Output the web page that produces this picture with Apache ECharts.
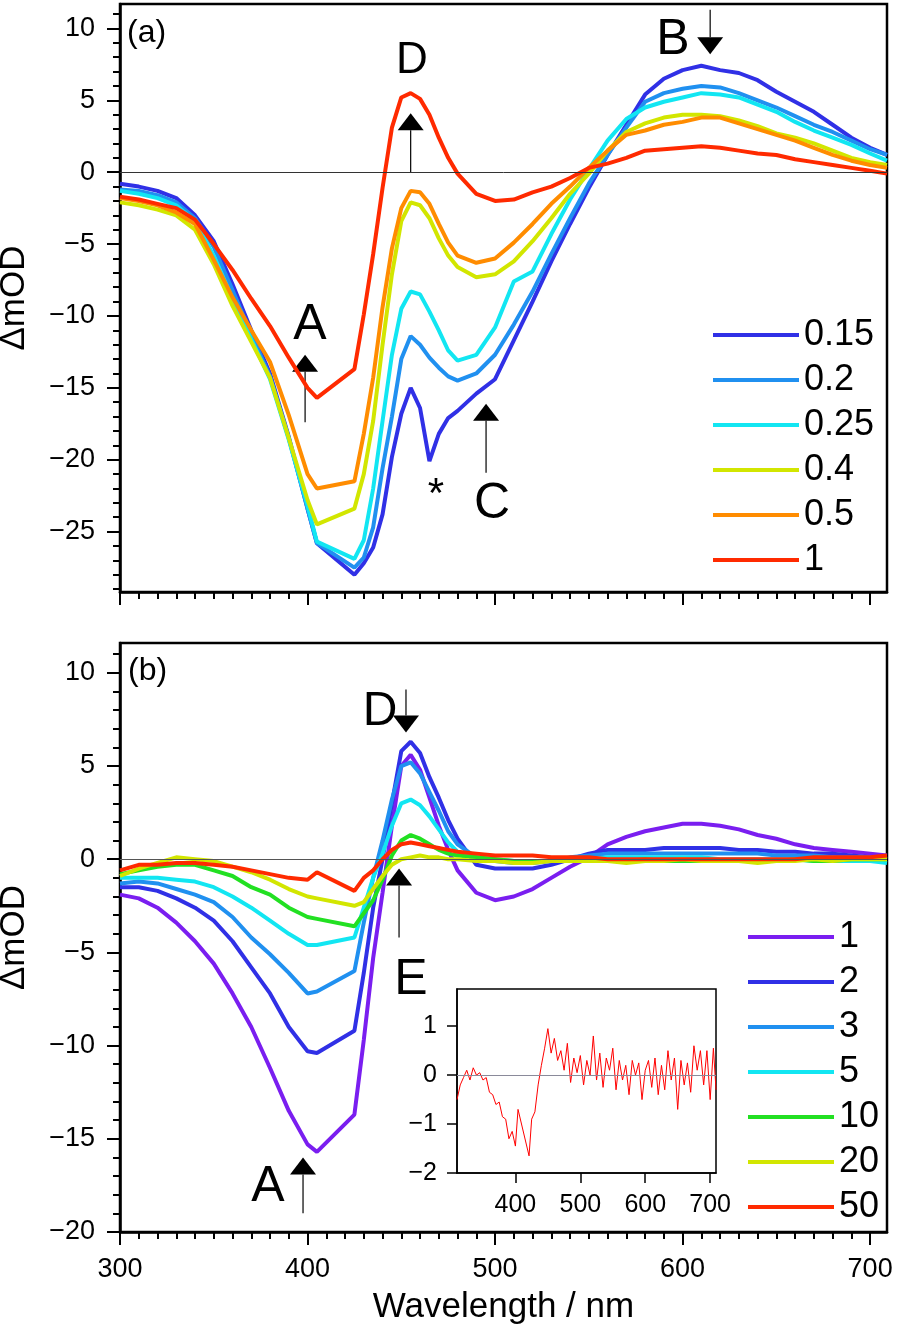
<!DOCTYPE html>
<html>
<head>
<meta charset="utf-8">
<script src="https://cdn.jsdelivr.net/npm/echarts@6/dist/echarts.min.js"></script>
<style>
html, body { margin: 0; padding: 0; background: #fff; }
#chart { width: 897px; height: 1335px; }
</style>
</head>
<body>
<div id="chart"></div>
<script>
// wavelength grid (nm); 405-425 is the cut-out pump region, joined by a straight line
const wl = [300,310,320,330,340,350,360,370,380,390,400,405,425,430,435,440,445,450,455,460,465,470,475,480,490,500,510,520,530,540,550,560,570,580,590,600,610,620,630,640,650,660,670,680,690,700,709]

// panel (a)
const namesA = ['0.15', '0.2', '0.25', '0.4', '0.5', '1']
const colorsA = ['#3030e6', '#2090f0', '#12e6f2', '#d2e600', '#ff8c00', '#ff2a00']
const a015 = [-0.8,-1.0,-1.3,-1.8,-3.0,-4.8,-7.8,-11.0,-14.0,-18.4,-23.4,-25.8,-28.0,-27.2,-26.1,-23.8,-19.8,-16.8,-15.0,-16.4,-20.1,-18.2,-17.1,-16.6,-15.4,-14.4,-11.7,-9.0,-6.2,-3.6,-1.1,1.2,3.3,5.4,6.5,7.1,7.4,7.1,6.9,6.4,5.6,4.9,4.2,3.3,2.4,1.7,1.2]
const a02 = [-1.2,-1.3,-1.6,-2.1,-3.2,-5.2,-8.2,-11.3,-14.2,-18.5,-23.4,-25.8,-27.5,-26.8,-24.7,-20.6,-17.0,-13.0,-11.4,-12.0,-12.9,-13.6,-14.2,-14.5,-14.0,-12.7,-10.6,-8.3,-5.7,-3.2,-0.8,1.2,3.1,4.9,5.5,5.8,6.0,5.9,5.5,5.0,4.5,3.9,3.3,2.8,2.2,1.6,1.2]
const a025 = [-1.3,-1.5,-1.8,-2.3,-3.4,-5.8,-8.8,-11.6,-14.4,-18.6,-23.2,-25.7,-26.9,-25.6,-22.0,-17.3,-12.7,-9.5,-8.3,-8.5,-9.7,-11.0,-12.4,-13.1,-12.7,-10.8,-7.6,-6.9,-4.3,-1.9,0.2,2.2,3.7,4.5,4.9,5.2,5.5,5.4,5.2,4.7,4.2,3.5,2.9,2.4,1.9,1.3,0.8]
const a04 = [-2.1,-2.3,-2.6,-3.0,-4.0,-6.4,-9.3,-11.8,-14.3,-18.5,-22.8,-24.5,-23.4,-21.0,-17.3,-12.0,-7.1,-3.4,-2.1,-2.3,-3.2,-4.6,-5.8,-6.6,-7.3,-7.1,-6.2,-4.8,-3.2,-1.5,-0.1,1.5,2.8,3.4,3.8,4.0,4.0,3.9,3.6,3.2,2.7,2.4,2.0,1.5,1.0,0.7,0.5]
const a05 = [-1.8,-2.0,-2.3,-2.8,-3.6,-6.1,-8.7,-11.0,-13.2,-16.9,-21.0,-22.0,-21.5,-18.2,-14.3,-9.4,-5.3,-2.5,-1.3,-1.4,-2.2,-3.6,-4.9,-5.8,-6.3,-6.0,-4.9,-3.6,-2.2,-1.0,0.3,1.5,2.6,2.9,3.3,3.5,3.8,3.8,3.4,3.0,2.6,2.2,1.7,1.2,0.8,0.5,0.3]
const a1 = [-1.7,-1.9,-2.2,-2.5,-3.3,-5.0,-6.8,-8.8,-10.7,-12.9,-15.0,-15.7,-13.7,-9.9,-5.7,-1.1,3.1,5.2,5.5,5.1,4.0,2.4,1.0,-0.1,-1.5,-2.0,-1.9,-1.4,-1.0,-0.4,0.3,0.6,1.0,1.5,1.6,1.7,1.8,1.7,1.5,1.3,1.2,0.9,0.7,0.5,0.3,0.1,-0.1]
const valuesA = [a015, a02, a025, a04, a05, a1]

// panel (b)
const namesB = ['1', '2', '3', '5', '10', '20', '50']
const colorsB = ['#7a1ef0', '#3030e6', '#2090f0', '#12e6f2', '#22e022', '#d2e600', '#ff2a00']
const b1 = [-1.9,-2.1,-2.6,-3.4,-4.4,-5.6,-7.2,-9.0,-11.2,-13.5,-15.3,-15.7,-13.7,-9.7,-5.3,-1.8,1.8,5.0,5.6,4.8,3.3,1.8,0.5,-0.6,-1.8,-2.2,-2.0,-1.6,-1.0,-0.4,0.1,0.8,1.2,1.5,1.7,1.9,1.9,1.8,1.6,1.3,1.1,0.8,0.6,0.5,0.4,0.3,0.2]
const b2 = [-1.5,-1.5,-1.7,-2.1,-2.6,-3.3,-4.4,-5.8,-7.2,-9.0,-10.3,-10.4,-9.2,-6.1,-2.6,0.0,3.0,5.8,6.3,5.7,4.4,3.3,2.1,1.1,-0.3,-0.5,-0.5,-0.5,-0.3,0.0,0.3,0.5,0.5,0.5,0.6,0.6,0.6,0.6,0.5,0.5,0.4,0.4,0.3,0.3,0.2,0.1,0.0]
const b3 = [-1.3,-1.2,-1.3,-1.6,-1.9,-2.3,-3.1,-4.2,-5.1,-6.1,-7.2,-7.1,-6.0,-3.4,-1.0,1.0,3.2,5.0,5.2,4.6,3.6,2.6,1.5,0.8,0.1,-0.1,-0.2,-0.2,-0.1,0.1,0.2,0.3,0.3,0.3,0.3,0.3,0.3,0.3,0.3,0.3,0.2,0.2,0.2,0.1,0.1,0.1,0.0]
const b5 = [-1.0,-1.0,-1.0,-1.1,-1.2,-1.5,-2.0,-2.6,-3.3,-4.0,-4.6,-4.6,-4.2,-2.6,-1.0,0.3,1.8,3.0,3.2,2.9,2.3,1.6,0.9,0.4,0.1,0.0,-0.1,-0.1,-0.1,0.0,0.0,0.1,0.1,0.1,0.1,0.1,0.1,0.0,0.0,0.0,0.0,0.0,-0.1,-0.1,-0.1,-0.1,-0.2]
const b10 = [-0.8,-0.6,-0.4,-0.3,-0.3,-0.6,-0.9,-1.5,-1.9,-2.6,-3.1,-3.2,-3.6,-2.9,-2.2,-1.1,0.2,1.0,1.3,1.1,0.8,0.5,0.3,0.2,0.1,0.0,-0.1,-0.1,-0.1,0.0,0.0,-0.1,-0.1,0.0,-0.1,-0.1,-0.1,-0.1,-0.1,-0.1,-0.1,0.0,-0.1,-0.1,0.0,0.0,0.0]
const b20 = [-0.9,-0.5,-0.2,0.1,0.0,-0.1,-0.4,-0.7,-1.1,-1.6,-2.0,-2.1,-2.5,-2.3,-1.6,-0.9,-0.3,0.0,0.1,0.2,0.1,0.1,0.0,0.0,-0.1,-0.1,-0.2,-0.2,-0.1,-0.1,-0.1,-0.1,-0.2,-0.1,-0.1,0.0,-0.1,-0.1,-0.1,-0.2,-0.1,-0.1,0.0,-0.1,0.0,0.0,0.0]
const b50 = [-0.6,-0.3,-0.3,-0.2,-0.2,-0.3,-0.4,-0.6,-0.8,-1.0,-1.1,-0.7,-1.7,-1.0,-0.6,0.0,0.5,0.8,0.9,0.8,0.7,0.6,0.5,0.4,0.3,0.2,0.2,0.2,0.1,0.1,0.1,0.0,0.0,0.0,0.0,0.0,0.0,0.0,0.0,0.0,0.0,0.0,0.1,0.1,0.1,0.1,0.2]
const valuesB = [b1, b2, b3, b5, b10, b20, b50]

// inset E
const insetWl = [310,315,320,325,330,335,340,345,350,355,360,365,370,375,380,385,390,395,400,404,421,425,430,435,440,445,450,455,460,465,470,475,480,485,490,495,500,505,510,515,520,525,530,535,540,545,550,555,560,565,570,575,580,585,590,595,600,605,610,615,620,625,630,635,640,645,650,655,660,665,670,675,680,685,690,695,700,705,709]
const insetV = [-0.5,-0.2,-0.05,0.1,-0.1,0.15,0.0,0.05,-0.1,-0.05,-0.35,-0.4,-0.6,-0.55,-0.85,-0.9,-1.3,-1.15,-1.45,-0.7,-1.65,-0.9,-0.75,-0.2,0.2,0.55,0.95,0.45,0.75,0.3,0.5,0.1,0.65,-0.15,0.35,0.05,0.4,-0.2,0.3,0.0,0.8,-0.1,0.45,-0.25,0.35,0.1,0.55,-0.3,0.3,-0.1,0.2,-0.4,0.3,0.0,0.25,-0.5,0.1,0.3,-0.25,0.35,-0.4,0.2,-0.3,0.5,-0.1,0.35,-0.7,0.3,-0.2,0.25,-0.35,0.6,0.1,0.5,-0.2,0.5,-0.5,0.55,-0.3]

// ticks
const xTicks = [300, 400, 500, 600, 700]
const yTicksA = [-25, -20, -15, -10, -5, 0, 5, 10]
const yTicksB = [-20, -15, -10, -5, 0, 5, 10]
const insetXTicks = [400, 500, 600, 700]
const insetYTicks = [-2, -1, 0, 1]

// annotation arrows in data units: panel, wavelength, tail value, tip value
const arrows = [
  [0, 455, 0, 4.1], [0, 398.7, -17.4, -12.7], [0, 614.7, 11.3, 8.2], [0, 495.2, -20.9, -16.1],
  [1, 452.5, 9.1, 6.8], [1, 448.8, -4.2, -0.5], [1, 397.6, -19.0, -16.0]
]

const FONT = '"Liberation Sans", Arial, sans-serif'
const minus = v => String(v).replace('-', '\u2212')

function range(a, b, s) {
  const r = []
  for (let v = a; v <= b + 1e-9; v += s) r.push(v)
  return r
}

function xAx(grid, ticks, len, label, line) {
  return {
    type: 'value', gridIndex: grid, min: 300, max: 709, position: 'bottom',
    axisLine: { show: line, onZero: false, lineStyle: { color: '#000', width: 2.5 } },
    axisTick: { show: true, customValues: ticks, length: len, lineStyle: { color: '#000', width: 2 } },
    axisLabel: { show: label, customValues: ticks, margin: 24, fontSize: 27, color: '#000', fontFamily: FONT },
    splitLine: { show: false }
  }
}

function yAx(grid, min, max, ticks, len, label, line) {
  return {
    type: 'value', gridIndex: grid, min: min, max: max, position: 'left',
    name: label ? 'ΔmOD' : '', nameLocation: 'middle', nameGap: 88, nameRotate: 90,
    nameTextStyle: { fontSize: 35, color: '#000', fontFamily: FONT },
    axisLine: { show: line, onZero: false, lineStyle: { color: '#000', width: 2.5 } },
    axisTick: { show: true, customValues: ticks, length: len, lineStyle: { color: '#000', width: 2 } },
    axisLabel: { show: label, customValues: ticks, margin: 25, fontSize: 27, color: '#000', fontFamily: FONT, formatter: minus },
    splitLine: { show: false }
  }
}

const zeroLine = (color, width) => ({
  silent: true, symbol: ['none', 'none'], label: { show: false },
  lineStyle: { color: color, width: width, type: 'solid' },
  data: [{ yAxis: 0 }]
})

const series = []
valuesA.forEach((vals, i) => {
  series.push({
    name: namesA[i], type: 'line', xAxisIndex: 0, yAxisIndex: 0,
    data: wl.map((w, j) => [w, vals[j]]),
    showSymbol: false, color: colorsA[i], lineStyle: { width: 4 },
    markLine: i === 0 ? zeroLine('#333', 1) : undefined
  })
})
valuesB.forEach((vals, i) => {
  series.push({
    name: 'b' + namesB[i], type: 'line', xAxisIndex: 2, yAxisIndex: 2,
    data: wl.map((w, j) => [w, vals[j]]),
    showSymbol: false, color: colorsB[i], lineStyle: { width: 4 },
    markLine: i === 0 ? zeroLine('#555', 1) : undefined
  })
})
series.push({
  name: 'E', type: 'line', xAxisIndex: 4, yAxisIndex: 4,
  data: insetWl.map((w, j) => [w, insetV[j]]),
  showSymbol: false, color: '#ff0000', lineStyle: { width: 1 },
  markLine: zeroLine('#8a8a9a', 1)
})

const legendBase = {
  orient: 'vertical', itemWidth: 86, itemHeight: 4, itemGap: 5, icon: 'rect',
  padding: 0, selectedMode: false,
  textStyle: { fontSize: 36, lineHeight: 40, color: '#000', fontFamily: FONT }
}

const gridBase = { show: true, borderColor: '#000', containLabel: false, outerBoundsMode: 'none' }

const option = {
  animation: false,
  backgroundColor: '#fff',
  grid: [
    Object.assign({ left: 120, top: 4, width: 767, height: 588, borderWidth: 2.5 }, gridBase),
    Object.assign({ left: 120, top: 643, width: 767, height: 589, borderWidth: 2.5 }, gridBase),
    Object.assign({ left: 457, top: 989, width: 259, height: 184, borderWidth: 1.5 }, gridBase)
  ],
  xAxis: [
    xAx(0, xTicks, 13, false, true),
    xAx(0, range(310, 700, 10), 7, false, false),
    Object.assign(xAx(1, xTicks, 13, true, true), {
      name: 'Wavelength / nm', nameLocation: 'middle', nameGap: 58,
      nameTextStyle: { fontSize: 35, color: '#000', fontFamily: FONT }
    }),
    xAx(1, range(310, 700, 10), 7, false, false),
    {
      type: 'value', gridIndex: 2, min: 310, max: 709, position: 'bottom',
      axisLine: { show: true, onZero: false, lineStyle: { color: '#000', width: 1.5 } },
      axisTick: { show: true, customValues: insetXTicks, length: 10, lineStyle: { color: '#000', width: 1.5 } },
      axisLabel: { customValues: insetXTicks, margin: 20, fontSize: 25, color: '#000', fontFamily: FONT },
      splitLine: { show: false }
    }
  ],
  yAxis: [
    yAx(0, -29.2, 11.7, yTicksA, 13, true, true),
    yAx(0, -29.2, 11.7, range(-29, 11, 1), 7, false, false),
    yAx(1, -20, 11.6, yTicksB, 13, true, true),
    yAx(1, -20, 11.6, range(-20, 11, 1), 7, false, false),
    {
      type: 'value', gridIndex: 2, min: -2, max: 1.76, position: 'left',
      axisLine: { show: true, onZero: false, lineStyle: { color: '#000', width: 1.5 } },
      axisTick: { show: true, customValues: insetYTicks, length: 10, lineStyle: { color: '#000', width: 1.5 } },
      axisLabel: { customValues: insetYTicks, margin: 20, fontSize: 25, color: '#000', fontFamily: FONT, formatter: minus },
      splitLine: { show: false }
    }
  ],
  legend: [
    Object.assign({}, legendBase, { data: namesA, left: 713, top: 315 }),
    Object.assign({}, legendBase, { data: namesB.map(n => 'b' + n), left: 748, top: 917, formatter: n => n.slice(1) })
  ],
  series: series
}

const chart = echarts.init(document.getElementById('chart'))
chart.setOption(option)

// text labels and arrows
const txt = (t, x, y, size, align) => ({
  type: 'text', silent: true,
  style: { text: t, x: x, y: y, fill: '#000', fontSize: size, fontFamily: FONT, align: align || 'center', verticalAlign: 'middle' }
})
const graphic = [
  txt('(a)', 127, 33, 32, 'left'),
  txt('(b)', 128, 671, 32, 'left'),
  txt('D', 412, 61, 44),
  txt('B', 673, 40, 50),
  txt('A', 310, 325, 50),
  txt('C', 492, 504, 50),
  txt('*', 436, 495, 42),
  txt('D', 380, 712, 48),
  txt('E', 411, 980, 50),
  txt('A', 268, 1187, 50)
]
arrows.forEach(a => {
  const ax = a[0] === 0 ? 0 : 2
  const p1 = chart.convertToPixel({ xAxisIndex: ax, yAxisIndex: ax }, [a[1], a[2]])
  const p2 = chart.convertToPixel({ xAxisIndex: ax, yAxisIndex: ax }, [a[1], a[3]])
  const dir = p1[1] > p2[1] ? 1 : -1
  const base = p2[1] + dir * 17
  graphic.push({
    type: 'line', silent: true,
    shape: { x1: p1[0], y1: p1[1], x2: p1[0], y2: base },
    style: { stroke: '#000', lineWidth: 1.2 }
  })
  graphic.push({
    type: 'polygon', silent: true,
    shape: { points: [[p2[0], p2[1]], [p2[0] - 13, base], [p2[0] + 13, base]] },
    style: { fill: '#000' }
  })
})
chart.setOption({ graphic: graphic })
</script>
</body>
</html>
